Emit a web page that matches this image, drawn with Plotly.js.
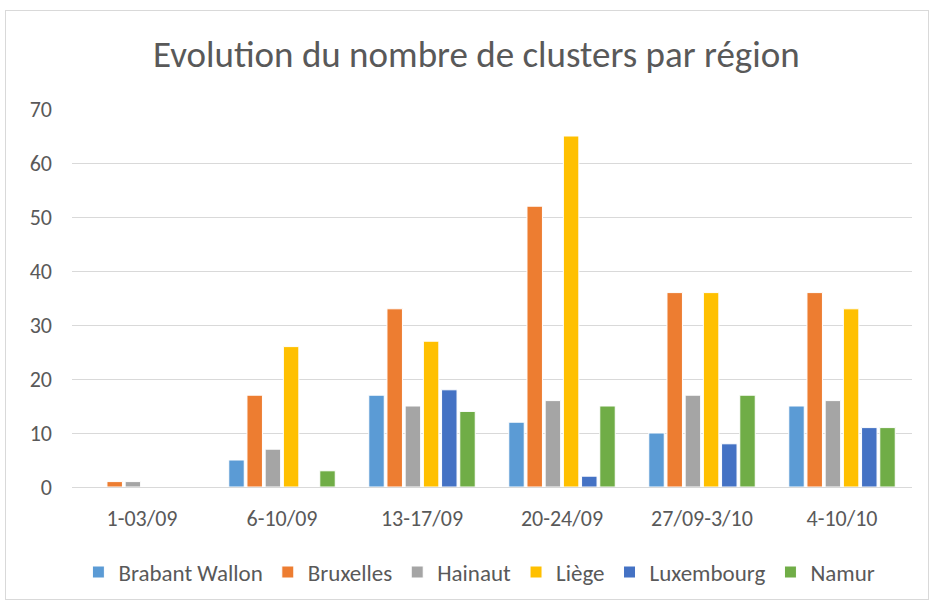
<!DOCTYPE html>
<html><head><meta charset="utf-8">
<script src="https://cdn.plot.ly/plotly-3.0.1.min.js"></script>
<style>
html,body{margin:0;padding:0;background:#fff;}
#chart{position:absolute;left:0;top:0;width:934px;height:606px;}
#frame{position:absolute;left:5px;top:10px;width:922px;height:588px;border:1px solid #d9d9d9;pointer-events:none;}
</style></head>
<body>
<div id="chart"></div>
<div id="frame"></div>
<script>
const categories = ["1-03/09","6-10/09","13-17/09","20-24/09","27/09-3/10","4-10/10"];
const seriesNames = ["Brabant Wallon","Bruxelles","Hainaut","Liège","Luxembourg","Namur"];
const brabantWallon = [0,5,17,12,10,15];
const bruxelles = [1,17,33,52,36,36];
const hainaut = [1,7,15,16,17,16];
const liege = [0,26,27,65,36,33];
const luxembourg = [0,0,18,2,8,11];
const namur = [0,3,14,15,17,11];
const colors = ["#5B9BD5","#ED7D31","#A5A5A5","#FFC000","#4472C4","#70AD47"];
const values = [brabantWallon,bruxelles,hainaut,liege,luxembourg,namur];
const font = "Calibri, Carlito, Lato, 'Open Sans', sans-serif";
const data = seriesNames.map((n,i)=>({
  type:'bar', name:n, x:categories, y:values[i],
  marker:{color:colors[i], line:{color:'#ffffff', width:1}}
}));
const layout = {
  width:934, height:606,
  margin:{l:72,r:22,t:109,b:119},
  paper_bgcolor:'#fff', plot_bgcolor:'#fff',
  title:{text:'Evolution du nombre de clusters par région', x:0.51, xanchor:'center', y:0.91, yanchor:'middle',
    font:{family:font, size:37, color:'#595959'}},
  barmode:'group', bargap:0.22, bargroupgap:0.15,
  xaxis:{type:'category', showgrid:false, showline:true, linecolor:'#d9d9d9', linewidth:1,
    ticks:'', ticklabelstandoff:12, tickfont:{family:font,size:22,color:'#595959'}},
  yaxis:{range:[0,70], dtick:10, showgrid:true, gridcolor:'#d9d9d9', gridwidth:1, zeroline:false,
    showline:false, ticks:'', ticklabelstandoff:19, tickfont:{family:font,size:22,color:'#595959'}},
  legend:{orientation:'h', x:0.485, xanchor:'center', y:-0.225, yanchor:'middle',
    font:{family:font,size:23,color:'#595959'}, traceorder:'normal', itemwidth:30},
  showlegend:true
};
Plotly.newPlot('chart', data, layout, {displayModeBar:false, staticPlot:true});
</script>
</body></html>
